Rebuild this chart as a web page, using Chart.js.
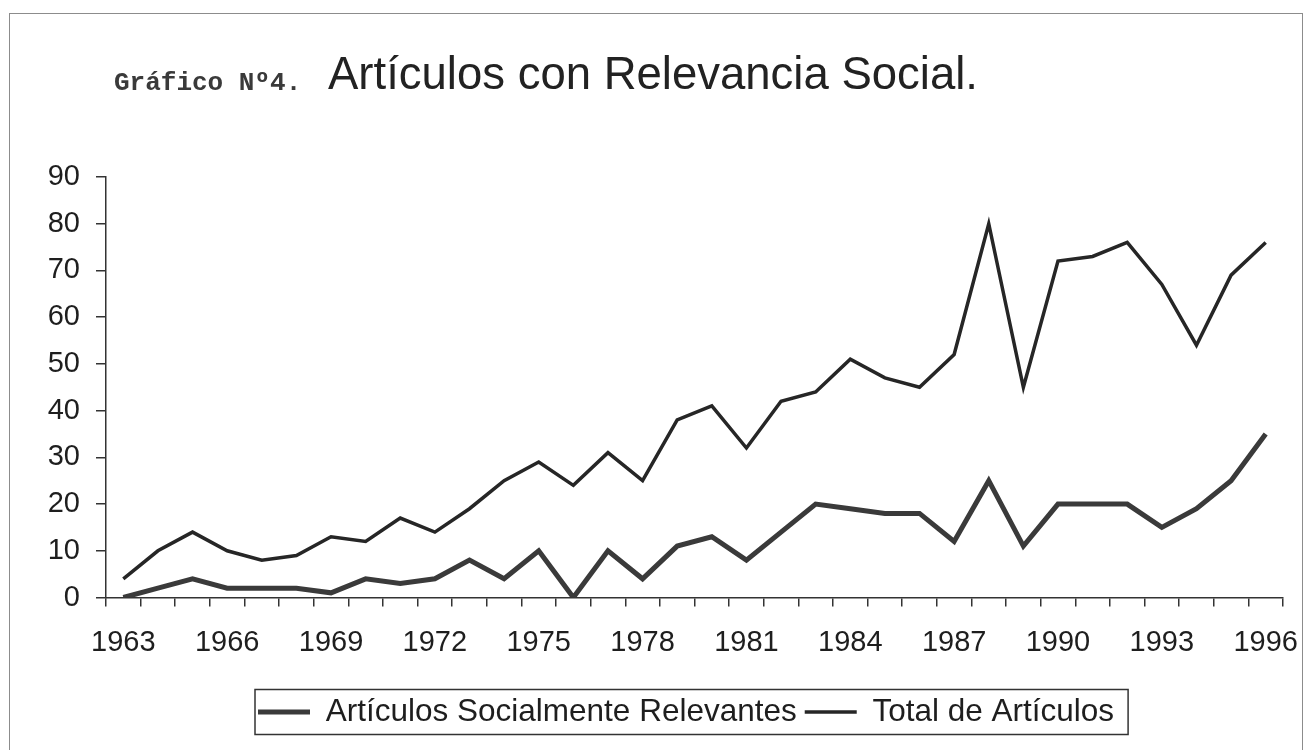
<!DOCTYPE html>
<html><head><meta charset="utf-8">
<script src="https://cdn.jsdelivr.net/npm/chart.js@4.4.1/dist/chart.umd.min.js"></script>
<style>
html,body{margin:0;padding:0;background:#fff;width:1307px;height:750px;overflow:hidden}
#frame{position:absolute;left:9px;top:13px;width:1294px;height:800px;border:1.5px solid #8c8c8c;box-sizing:border-box}
#wrap{position:absolute;left:0;top:0;width:1307px;height:750px}
.t1{position:absolute;left:114px;top:70px;font:bold 26px/26px "Liberation Mono","DejaVu Sans Mono",monospace;color:#3a3a3a;white-space:nowrap}
.t2{position:absolute;left:328px;top:51px;font:45.5px/45.5px "Liberation Sans",Arial,sans-serif;color:#222;white-space:nowrap}
</style></head><body>
<div id="frame"></div>
<div id="wrap"><canvas id="c" width="1307" height="750"></canvas></div>
<div class="t1">Gráfico Nº4.</div>
<div class="t2">Artículos con Relevancia Social.</div>
<script>
const years = ['1963','1964','1965','1966','1967','1968','1969','1970','1971','1972','1973','1974','1975','1976','1977','1978','1979','1980','1981','1982','1983','1984','1985','1986','1987','1988','1989','1990','1991','1992','1993','1994','1995','1996'];
const tickLabels = ['1963','1966','1969','1972','1975','1978','1981','1984','1987','1990','1993','1996'];
const relevantes = [0,2,4,2,2,2,1,4,3,4,8,4,10,0,10,4,11,13,8,14,20,19,18,18,12,25,11,20,20,20,15,19,25,35];
const totales = [4,10,14,10,8,9,13,12,17,14,19,25,29,24,31,25,38,41,32,42,44,51,47,45,52,80,45,72,73,76,67,54,69,76];
const seriesNames = ['Artículos Socialmente Relevantes','Total de Artículos'];
const yTicks = [0,10,20,30,40,50,60,70,80,90];

const FONT = '"Liberation Sans", Arial, sans-serif';
const LEGEND_START_X = 258;
const LEGEND_CENTER_Y = 712;

const legendPlugin = {
  id: 'legendFrame',
  afterLayout(chart) {
    const lg = chart.legend;
    if (!lg || !lg.lineWidths) return;
    const p = lg.options.labels.padding;
    const startX = (lg.left + p + lg.right - lg.lineWidths[0]) / 2;
    const dx = LEGEND_START_X - startX;
    lg.left += dx; lg.right += dx;
    const itemTop = LEGEND_CENTER_Y - lg.options.labels.font.size / 2;
    const dy = itemTop - p - lg.top;
    lg.top += dy; lg.bottom += dy;
  },
  afterDraw(chart) {
    const lg = chart.legend;
    const hb = lg.legendHitBoxes;
    if (!hb || !hb.length) return;
    const ctx = chart.ctx;
    const last = hb[hb.length - 1];
    const x0 = hb[0].left - 3;
    const x1 = last.left + last.width + 14;
    ctx.save();
    ctx.strokeStyle = '#333';
    ctx.lineWidth = 1.5;
    ctx.strokeRect(x0, LEGEND_CENTER_Y - 22.5, x1 - x0, 45);
    ctx.restore();
  }
};

new Chart(document.getElementById('c'), {
  type: 'line',
  data: {
    labels: years,
    datasets: [
      { label: seriesNames[0], data: relevantes, borderColor: '#3a3a3a', backgroundColor: '#3a3a3a', borderWidth: 5, pointRadius: 0, pointStyle: 'line', tension: 0, fill: false },
      { label: seriesNames[1], data: totales, borderColor: '#262626', backgroundColor: '#262626', borderWidth: 3.5, pointRadius: 0, pointStyle: 'line', tension: 0, fill: false }
    ]
  },
  options: {
    responsive: false,
    animation: false,
    devicePixelRatio: 1,
    layout: { padding: { left: 0, right: 24, top: 177, bottom: 43 } },
    plugins: {
      title: { display: false },
      tooltip: { enabled: false },
      legend: {
        display: true,
        position: 'bottom',
        align: 'center',
        labels: {
          usePointStyle: true,
          pointStyleWidth: 52,
          padding: 8,
          color: '#1e1e1e',
          font: { family: FONT, size: 31.5 }
        }
      }
    },
    scales: {
      x: {
        type: 'category',
        offset: true,
        afterFit(s) { s.height = 60; s.paddingLeft = 0; s.paddingRight = 0; },
        grid: { offset: true, drawOnChartArea: false, drawTicks: true, tickLength: 9, color: '#333', lineWidth: 1.5 },
        border: { display: true, color: '#333', width: 1.5 },
        ticks: {
          autoSkip: false, maxRotation: 0, minRotation: 0, padding: 19,
          color: '#1e1e1e', font: { family: FONT, size: 29 },
          callback(v, i) { const l = years[i]; return tickLabels.includes(l) ? l : ''; }
        }
      },
      y: {
        min: 0, max: 90,
        afterFit(s) { s.width = 106; },
        afterBuildTicks(s) { s.ticks = yTicks.map(v => ({ value: v })); },
        grid: { drawOnChartArea: false, drawTicks: true, tickLength: 10, color: '#333', lineWidth: 1.5 },
        border: { display: true, color: '#333', width: 1.5 },
        ticks: { padding: 16, color: '#1e1e1e', font: { family: FONT, size: 29 } }
      }
    }
  },
  plugins: [legendPlugin]
});
</script>
</body></html>
